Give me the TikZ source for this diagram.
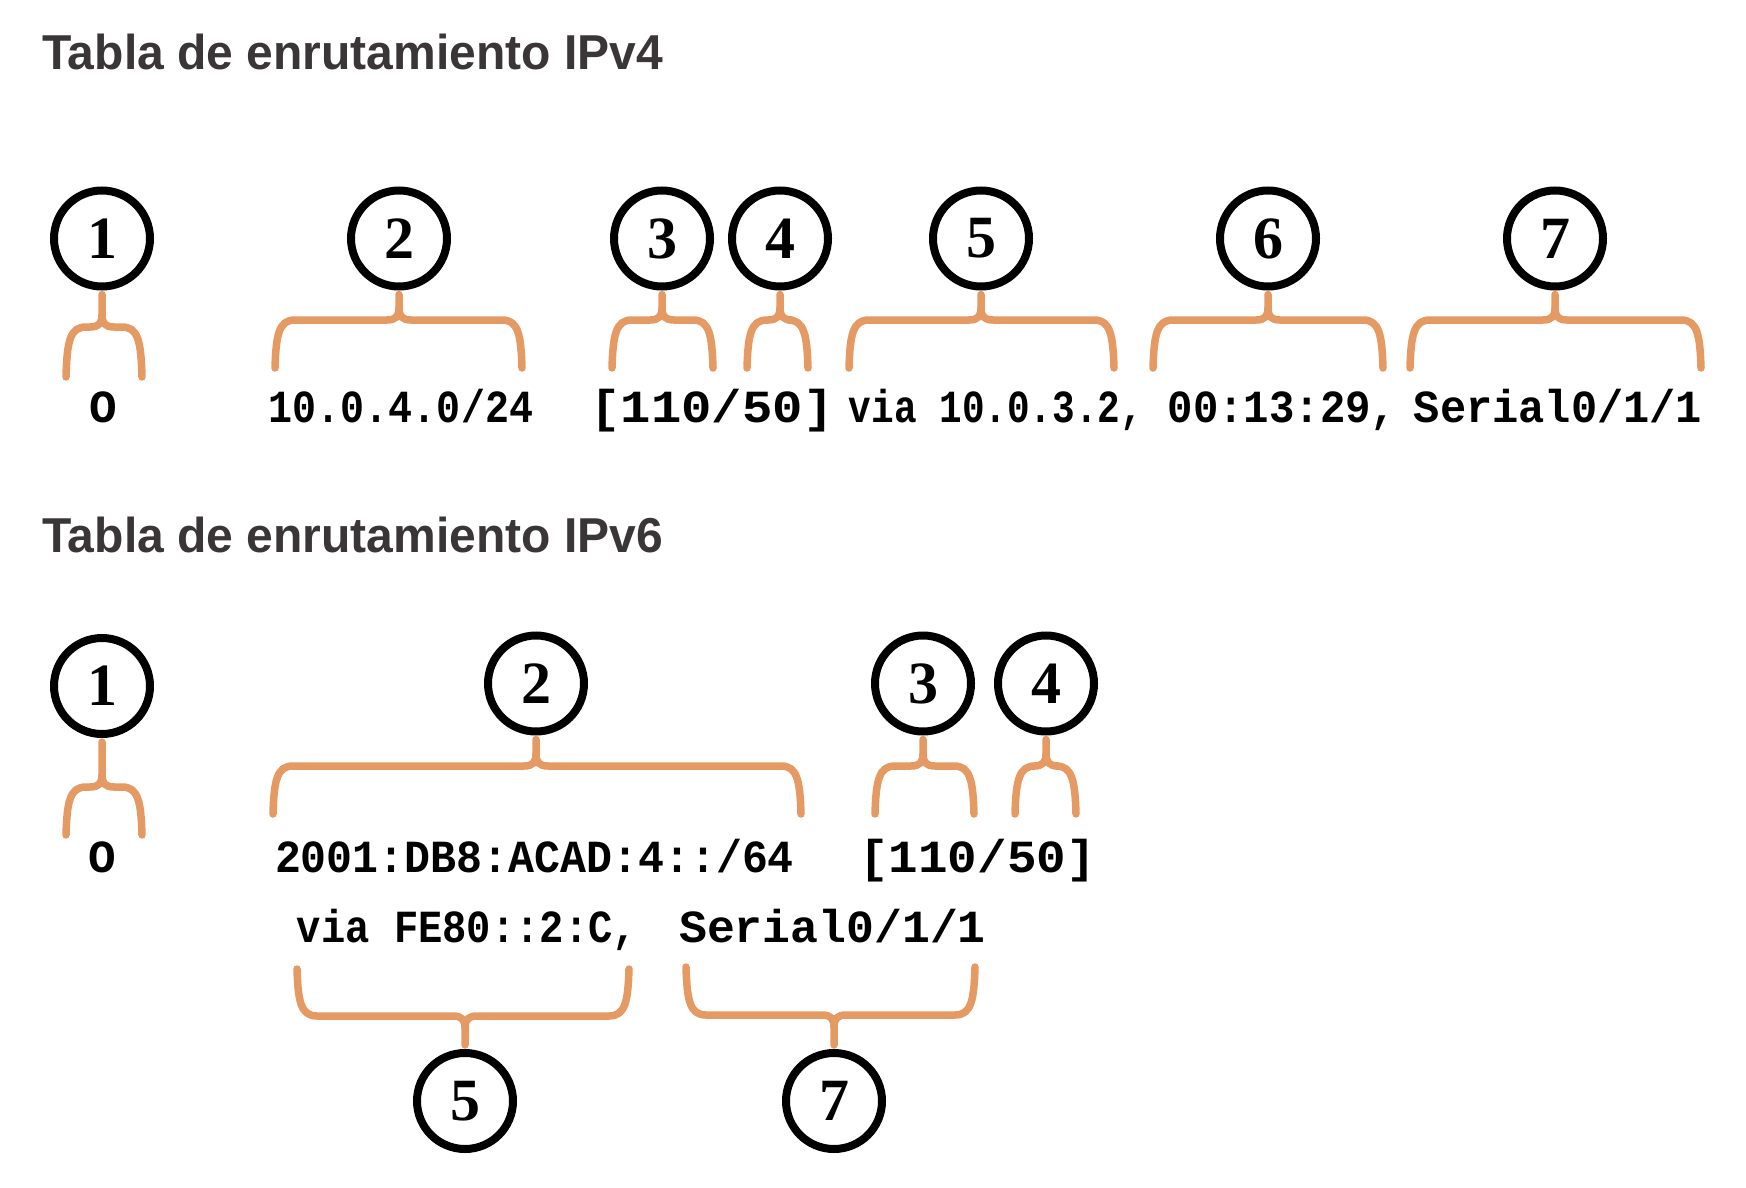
\documentclass[tikz,border=0pt]{standalone}
\usepackage{fontspec}
\usepackage{graphicx}
\setmainfont{Liberation Serif}
\newfontfamily\titlefont{Liberation Sans}[FakeStretch=0.98]
\newfontfamily\monofont{Liberation Mono}
\newfontfamily\numfont{Liberation Serif}
\definecolor{brorange}{RGB}{229,154,100}
\definecolor{titlegray}{RGB}{58,54,55}
\tikzset{
  num/.style={circle, draw=black, line width=8pt, minimum size=96pt, inner sep=0pt,
    font=\numfont\bfseries\fontsize{60}{60}\selectfont},
  brc/.style={draw=brorange, line width=7.5pt, line cap=round, line join=round},
  mono/.style={anchor=base, inner sep=0pt, font=\monofont\bfseries\fontsize{46}{46}\selectfont},
  ttl/.style={anchor=base west, inner sep=0pt, text=titlegray,
    font=\titlefont\bfseries\fontsize{49}{49}\selectfont},
}
% top brace: #1 node, #2 stem x, #3 left x, #4 right x, #5 bar y, #6 arm end y
\newcommand{\tbrace}[6]{%
  \draw[brc] ([yshift=-4pt]#1.south) -- (#2,#5-12) .. controls (#2,#5-4) and (#2-3,#5) .. (#2-12,#5)
     -- (#3+20,#5) .. controls (#3+4,#5) and (#3+1,#5+14) .. (#3,#6);
  \draw[brc] (#2,#5-12) .. controls (#2,#5-4) and (#2+3,#5) .. (#2+12,#5)
     -- (#4-20,#5) .. controls (#4-4,#5) and (#4-1,#5+14) .. (#4,#6);}
% bottom brace: #1 node, #2 stem x, #3 left x, #4 right x, #5 bar y, #6 arm end y
\newcommand{\bbrace}[6]{%
  \draw[brc] ([yshift=4pt]#1.north) -- (#2,#5+12) .. controls (#2,#5+4) and (#2-3,#5) .. (#2-12,#5)
     -- (#3+20,#5) .. controls (#3+4,#5) and (#3+1,#5-14) .. (#3,#6);
  \draw[brc] (#2,#5+12) .. controls (#2,#5+4) and (#2+3,#5) .. (#2+12,#5)
     -- (#4-20,#5) .. controls (#4-4,#5) and (#4-1,#5-14) .. (#4,#6);}
\begin{document}
\begin{tikzpicture}[x=1pt,y=-1pt]
\useasboundingbox (0,0) rectangle (1746,1188);
% titles
\node[ttl] (title4) at (42,70) {Tabla de enrutamiento IPv4};
\node[ttl] (title6) at (42,552) {Tabla de enrutamiento IPv6};
% IPv4 circles
\node[num] (a1) at (102,238.5) {1};
\node[num] (a2) at (399,238.5) {2};
\node[num] (a3) at (662,238.5) {3};
\node[num] (a4) at (780,238.5) {4};
\node[num] (a5) at (981,238.5) {5};
\node[num] (a6) at (1268,238.5) {6};
\node[num] (a7) at (1555,238.5) {7};
% IPv4 texts
\node[mono] (ta1) at (103,422) {O};
\node[mono] (ta2) at (401,422) {\scalebox{0.87}[1]{10.0.4.0/24}};
\node[mono] (ta34) at (712,422) {\scalebox{1.10}[1]{[110/50]}};
\node[mono] (ta5) at (996,422) {\scalebox{0.82}[1]{via 10.0.3.2,}};
\node[mono] (ta6) at (1282,422) {\scalebox{0.92}[1]{00:13:29,}};
\node[mono] (ta7) at (1558,422) {\scalebox{0.95}[1]{Serial0/1/1}};
% IPv4 braces
\tbrace{a1}{102}{66}{142}{327}{377}
\tbrace{a2}{399}{275}{522}{320}{368}
\tbrace{a3}{662}{612}{713}{320}{368}
\tbrace{a4}{780}{747}{808}{320}{368}
\tbrace{a5}{981}{849}{1114}{320}{368}
\tbrace{a6}{1268}{1153}{1383}{320}{368}
\tbrace{a7}{1555}{1410}{1701}{320}{368}
% IPv6 circles
\node[num] (b1) at (102,686) {1};
\node[num] (b2) at (536,683.5) {2};
\node[num] (b3) at (923,683.5) {3};
\node[num] (b4) at (1046,683.5) {4};
\node[num] (b5) at (465,1101) {5};
\node[num] (b7) at (834,1101) {7};
% IPv6 texts
\node[mono] (tb1) at (102,872) {O};
\node[mono] (tb2) at (534.5,872) {\scalebox{0.94}[1]{2001:DB8:ACAD:4::/64}};
\node[mono] (tb34) at (977.5,872) {\scalebox{1.07}[1]{[110/50]}};
\node[mono] (tb5) at (467,942) {\scalebox{0.88}[1]{via FE80::2:C,}};
\node[mono] (tb7) at (832.5,942) {\scalebox{1.01}[1]{Serial0/1/1}};
% IPv6 braces
\tbrace{b1}{102}{66}{142}{787}{835}
\tbrace{b2}{536}{273}{801}{766}{814}
\tbrace{b3}{923}{875}{974}{766}{814}
\tbrace{b4}{1046}{1015}{1076}{766}{814}
\bbrace{b5}{465}{297}{629}{1016}{969}
\bbrace{b7}{834}{686}{975}{1015}{967}
\end{tikzpicture}
\end{document}
